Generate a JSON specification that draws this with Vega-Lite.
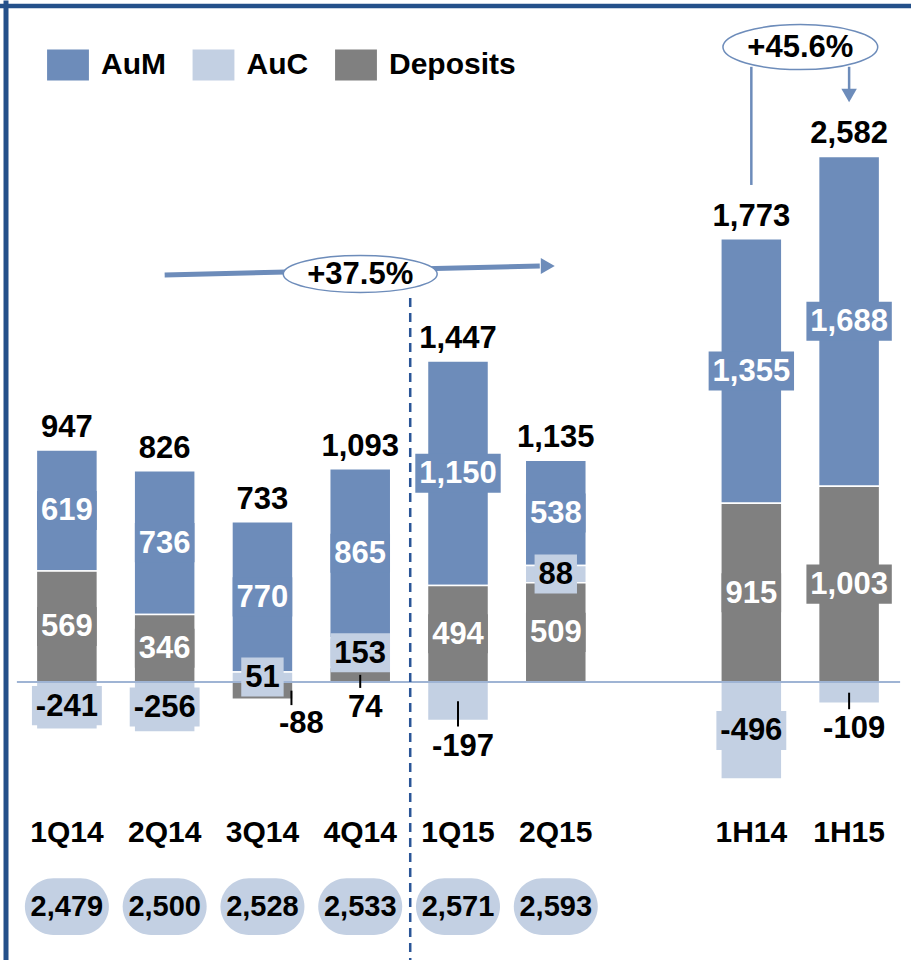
{
  "$schema": "https://vega.github.io/schema/vega-lite/v6.json",
  "width": 911,
  "height": 960,
  "autosize": {"type": "none"},
  "padding": 0,
  "background": "white",
  "config": {
    "view": {"stroke": null},
    "font": "Liberation Sans",
    "locale": {"number": {"decimal": ".", "thousands": ",", "grouping": [3], "currency": ["$", ""], "minus": "-"}},
    "axisX": {"title": null, "domain": false, "ticks": false, "tickSize": 0, "grid": false, "labelPadding": 0, "labelBaseline": "alphabetic", "labelAngle": 0, "offset": -119, "labelFontSize": 30, "labelFontWeight": "bold", "labelColor": "black", "labelFont": "Liberation Sans"},
    "axisY": {"labels": false, "ticks": false, "grid": false, "domain": true, "domainColor": "#24508a", "domainWidth": 5, "offset": -5.5, "titleOpacity": 0}
  },
  "datasets": {
    "flows": [
      {"period": "1Q14", "series": "AuM", "value": 619},
      {"period": "1Q14", "series": "AuC", "value": -241},
      {"period": "1Q14", "series": "Deposits", "value": 569},
      {"period": "1Q14", "series": "Total", "value": 947},
      {"period": "2Q14", "series": "AuM", "value": 736},
      {"period": "2Q14", "series": "AuC", "value": -256},
      {"period": "2Q14", "series": "Deposits", "value": 346},
      {"period": "2Q14", "series": "Total", "value": 826},
      {"period": "3Q14", "series": "AuM", "value": 770},
      {"period": "3Q14", "series": "AuC", "value": 51},
      {"period": "3Q14", "series": "Deposits", "value": -88},
      {"period": "3Q14", "series": "Total", "value": 733},
      {"period": "4Q14", "series": "AuM", "value": 865},
      {"period": "4Q14", "series": "AuC", "value": 153},
      {"period": "4Q14", "series": "Deposits", "value": 74},
      {"period": "4Q14", "series": "Total", "value": 1093},
      {"period": "1Q15", "series": "AuM", "value": 1150},
      {"period": "1Q15", "series": "AuC", "value": -197},
      {"period": "1Q15", "series": "Deposits", "value": 494},
      {"period": "1Q15", "series": "Total", "value": 1447},
      {"period": "2Q15", "series": "AuM", "value": 538},
      {"period": "2Q15", "series": "AuC", "value": 88},
      {"period": "2Q15", "series": "Deposits", "value": 509},
      {"period": "2Q15", "series": "Total", "value": 1135},
      {"period": "1H14", "series": "AuM", "value": 1355},
      {"period": "1H14", "series": "AuC", "value": -496},
      {"period": "1H14", "series": "Deposits", "value": 915},
      {"period": "1H14", "series": "Total", "value": 1773},
      {"period": "1H15", "series": "AuM", "value": 1688},
      {"period": "1H15", "series": "AuC", "value": -109},
      {"period": "1H15", "series": "Deposits", "value": 1003},
      {"period": "1H15", "series": "Total", "value": 2582}
    ],
    "staff": [
      {"period": "1Q14", "value": 2479},
      {"period": "2Q14", "value": 2500},
      {"period": "3Q14", "value": 2528},
      {"period": "4Q14", "value": 2533},
      {"period": "1Q15", "value": 2571},
      {"period": "2Q15", "value": 2593}
    ]
  },
  "data": {"name": "flows"},
  "transform": [
    {"calculate": "indexof(['Deposits','AuC','AuM','Total'], datum.series)", "as": "k"},
    {"calculate": "datum.series == 'Total' ? 0 : datum.value", "as": "sv"},
    {"stack": "sv", "groupby": ["period"], "sort": [{"field": "k", "order": "ascending"}], "as": ["v0", "v1"]},
    {"calculate": "(datum.v0 + datum.v1) / 2", "as": "mid"},
    {"calculate": "min(datum.v0, datum.v1, 0)", "as": "lo"},
    {"calculate": "datum.lo - 30", "as": "tEnd"},
    {"calculate": "datum.mid - 100", "as": "bLo"},
    {"calculate": "datum.mid + 100", "as": "bHi"},
    {"calculate": "17.2 * length(format(datum.value, ',')) - (indexof(format(datum.value, ','), ',') >= 0 ? 8.6 : 0) - (datum.value < 0 ? 6.9 : 0) + 8", "as": "bw"},
    {"calculate": "datum.series != 'Total' && ((datum.value < 0 && datum.value > -200) || (datum.series == 'Deposits' && datum.value > 0 && datum.value < 100))", "as": "outside"}
  ],
  "layer": [
    {
      "transform": [{"filter": "datum.series != 'Total'"}],
      "mark": {"type": "bar", "stroke": "white", "strokeWidth": 1.5},
      "encoding": {
        "x": {
          "field": "period", "type": "nominal", "title": null,
          "scale": {"domain": ["1Q14", "2Q14", "3Q14", "4Q14", "1Q15", "2Q15", " ", "1H14", "1H15"], "range": [18, 898], "paddingInner": 0.376, "paddingOuter": 0.188}
        },
        "y": {
          "field": "v0", "type": "quantitative", "title": null,
          "scale": {"domain": [-1423, 3492], "nice": false, "zero": false}
        },
        "y2": {"field": "v1"},
        "color": {
          "field": "series", "type": "nominal",
          "scale": {"domain": ["AuM", "AuC", "Deposits"], "range": ["#6d8cba", "#c3d0e3", "#808080"]},
          "legend": {"title": null, "orient": "none", "legendX": 52.5, "legendY": 49.5, "direction": "horizontal", "symbolType": "M-1.35,-1H1.35V1H-1.35Z", "symbolSize": 961, "symbolStrokeWidth": 0, "symbolOpacity": 1, "labelFontSize": 30, "labelFontWeight": "bold", "labelColor": "black", "labelFont": "Liberation Sans", "labelOffset": 17.5, "columnPadding": 25.5, "padding": 0, "labelLimit": 300}
        }
      }
    },
    {
      "data": {"values": [{}]},
      "mark": {"type": "rule", "color": "#9fb4d4", "strokeWidth": 2, "xOffset": -50, "x2Offset": 51},
      "encoding": {
        "x": {"datum": "1Q14", "title": null},
        "x2": {"datum": "1H15"},
        "y": {"datum": 0, "title": null}
      }
    },
    {
      "transform": [{"filter": "datum.series != 'Total' && !datum.outside"}],
      "mark": {"type": "bar"},
      "encoding": {
        "x": {"field": "period", "type": "nominal", "title": null},
        "y": {"field": "bLo", "type": "quantitative", "title": null},
        "y2": {"field": "bHi"},
        "size": {"field": "bw", "type": "quantitative", "scale": null},
        "color": {"field": "series", "type": "nominal", "legend": null}
      }
    },
    {
      "transform": [{"filter": "datum.series != 'Total' && !datum.outside"}],
      "mark": {"type": "text", "fontSize": 31, "fontWeight": "bold", "baseline": "middle", "align": "center", "dy": 1},
      "encoding": {
        "x": {"field": "period", "type": "nominal", "title": null},
        "y": {"field": "mid", "type": "quantitative", "title": null},
        "text": {"field": "value", "type": "quantitative", "format": ","},
        "color": {"condition": {"test": "datum.series == 'AuC'", "value": "black"}, "value": "white"}
      }
    },
    {
      "transform": [{"filter": "datum.outside && datum.period != '3Q14'"}],
      "mark": {"type": "rule", "color": "black", "strokeWidth": 2},
      "encoding": {
        "x": {"field": "period", "type": "nominal", "title": null},
        "y": {"field": "mid", "type": "quantitative", "title": null},
        "y2": {"field": "tEnd"}
      }
    },
    {
      "transform": [{"filter": "datum.outside && datum.period == '3Q14'"}],
      "mark": {"type": "rule", "color": "black", "strokeWidth": 2, "xOffset": 29},
      "encoding": {
        "x": {"field": "period", "type": "nominal", "title": null},
        "y": {"field": "mid", "type": "quantitative", "title": null},
        "y2": {"field": "tEnd"}
      }
    },
    {
      "transform": [{"filter": "datum.outside && datum.period != '3Q14'"}],
      "mark": {"type": "text", "fontSize": 31, "fontWeight": "bold", "baseline": "middle", "align": "center", "dx": 5, "dy": 26, "color": "black"},
      "encoding": {
        "x": {"field": "period", "type": "nominal", "title": null},
        "y": {"field": "lo", "type": "quantitative", "title": null},
        "text": {"field": "value", "type": "quantitative", "format": ","}
      }
    },
    {
      "transform": [{"filter": "datum.outside && datum.period == '3Q14'"}],
      "mark": {"type": "text", "fontSize": 31, "fontWeight": "bold", "baseline": "middle", "align": "center", "dx": 39, "dy": 25, "color": "black"},
      "encoding": {
        "x": {"field": "period", "type": "nominal", "title": null},
        "y": {"field": "lo", "type": "quantitative", "title": null},
        "text": {"field": "value", "type": "quantitative", "format": ","}
      }
    },
    {
      "transform": [{"filter": "datum.series == 'Total'"}],
      "mark": {"type": "text", "fontSize": 31, "fontWeight": "bold", "baseline": "alphabetic", "align": "center", "dy": -13, "color": "black"},
      "encoding": {
        "x": {"field": "period", "type": "nominal", "title": null},
        "y": {"field": "v1", "type": "quantitative", "title": null},
        "text": {"field": "value", "type": "quantitative", "format": ","}
      }
    },
    {
      "data": {"values": [{}]},
      "mark": {"type": "rule", "color": "#2a5597", "strokeWidth": 2.5, "strokeDash": [9, 6], "xOffset": 50},
      "encoding": {
        "x": {"datum": "4Q14", "title": null},
        "y": {"datum": 1966, "title": null},
        "y2": {"datum": -1423}
      }
    },
    {
      "data": {"name": "staff"},
      "mark": {"type": "bar", "size": 84, "cornerRadius": 28.5, "color": "#c3d0e3"},
      "encoding": {
        "x": {"field": "period", "type": "nominal", "title": null},
        "y": {"datum": -1004, "title": null},
        "y2": {"datum": -1295}
      }
    },
    {
      "data": {"name": "staff"},
      "mark": {"type": "text", "fontSize": 29, "fontWeight": "bold", "baseline": "middle", "align": "center", "color": "black", "dy": 1},
      "encoding": {
        "x": {"field": "period", "type": "nominal", "title": null},
        "y": {"datum": -1147, "title": null},
        "text": {"field": "value", "type": "quantitative", "format": ","}
      }
    },
    {
      "data": {"values": [{}]},
      "mark": {"type": "rule", "color": "#6d8cba", "strokeWidth": 5, "x2Offset": -16},
      "encoding": {
        "x": {"datum": "2Q14", "title": null},
        "x2": {"datum": "2Q15"},
        "y": {"datum": 2084, "title": null},
        "y2": {"datum": 2130}
      }
    },
    {
      "data": {"values": [{}]},
      "mark": {"type": "point", "shape": "triangle-right", "filled": true, "color": "#6d8cba", "opacity": 1, "size": 260, "xOffset": -8},
      "encoding": {
        "x": {"datum": "2Q15", "title": null},
        "y": {"datum": 2130, "title": null}
      }
    },
    {
      "data": {"values": [{}]},
      "mark": {"type": "point", "shape": "M-4.16,0C-4.16,-0.5523,-2.2976,-1,0,-1C2.2976,-1,4.16,-0.5523,4.16,0C4.16,0.5523,2.2976,1,0,1C-2.2976,1,-4.16,0.5523,-4.16,0Z", "filled": true, "fill": "white", "stroke": "#6d8cba", "strokeWidth": 1.5, "opacity": 1, "size": 1369},
      "encoding": {
        "x": {"datum": "4Q14", "title": null},
        "y": {"datum": 2089, "title": null}
      }
    },
    {
      "data": {"values": [{}]},
      "mark": {"type": "text", "text": "+37.5%", "fontSize": 31, "fontWeight": "bold", "baseline": "middle", "align": "center", "color": "black", "dy": 1},
      "encoding": {
        "x": {"datum": "4Q14", "title": null},
        "y": {"datum": 2089, "title": null}
      }
    },
    {
      "data": {"values": [{}]},
      "mark": {"type": "rule", "color": "#6d8cba", "strokeWidth": 2.5},
      "encoding": {
        "x": {"datum": "1H14", "title": null},
        "y": {"datum": 2545, "title": null},
        "y2": {"datum": 3150}
      }
    },
    {
      "data": {"values": [{}]},
      "mark": {"type": "rule", "color": "#6d8cba", "strokeWidth": 2.5},
      "encoding": {
        "x": {"datum": "1H15", "title": null},
        "y": {"datum": 3150, "title": null},
        "y2": {"datum": 3003}
      }
    },
    {
      "data": {"values": [{}]},
      "mark": {"type": "point", "shape": "triangle-down", "filled": true, "color": "#6d8cba", "opacity": 1, "size": 240},
      "encoding": {
        "x": {"datum": "1H15", "title": null},
        "y": {"datum": 3003, "title": null}
      }
    },
    {
      "data": {"values": [{}]},
      "mark": {"type": "point", "shape": "M-3.44,0C-3.44,-0.5523,-1.9,-1,0,-1C1.9,-1,3.44,-0.5523,3.44,0C3.44,0.5523,1.9,1,0,1C-1.9,1,-3.44,0.5523,-3.44,0Z", "filled": true, "fill": "white", "stroke": "#6d8cba", "strokeWidth": 1.5, "opacity": 1, "size": 2025, "xOffset": 49},
      "encoding": {
        "x": {"datum": "1H14", "title": null},
        "y": {"datum": 3251, "title": null}
      }
    },
    {
      "data": {"values": [{}]},
      "mark": {"type": "text", "text": "+45.6%", "fontSize": 31, "fontWeight": "bold", "baseline": "middle", "align": "center", "color": "black", "dy": 1, "xOffset": 49},
      "encoding": {
        "x": {"datum": "1H14", "title": null},
        "y": {"datum": 3251, "title": null}
      }
    },
    {
      "data": {"values": [{}]},
      "mark": {"type": "rule", "color": "#24508a", "strokeWidth": 4.5},
      "encoding": {
        "y": {"datum": 3461, "title": null}
      }
    }
  ]
}
